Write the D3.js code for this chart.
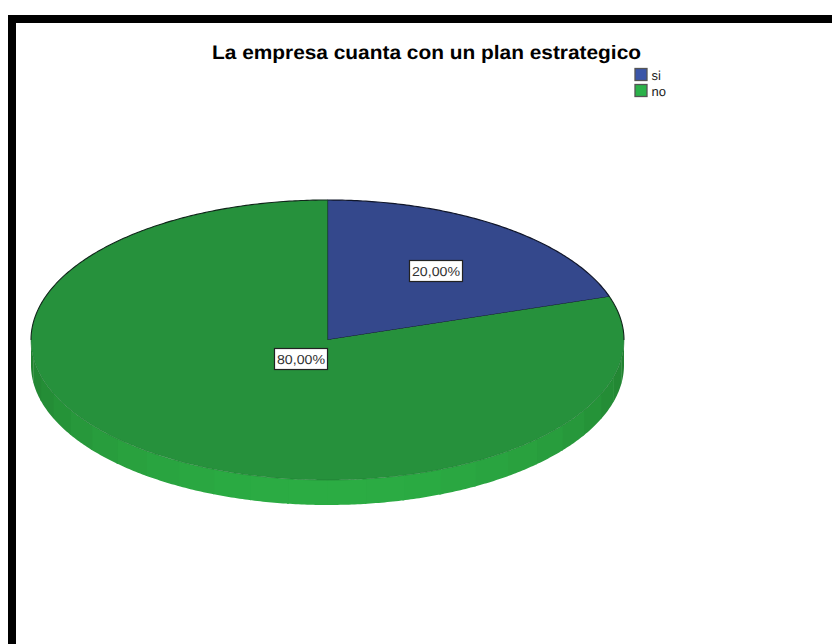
<!DOCTYPE html>
<html><head><meta charset="utf-8">
<script src="https://cdn.jsdelivr.net/npm/d3@7"></script>
<style>html,body{margin:0;padding:0;background:#fff;overflow:hidden}svg{display:block}text{font-family:"Liberation Sans",Arial,sans-serif;text-rendering:geometricPrecision}</style>
</head><body>
<svg id="c" width="832" height="644"></svg>
<script>
const title = "La empresa cuanta con un plan estrategico";
const categories = ["si", "no"];
const values = [20, 80];
const labels = ["20,00%", "80,00%"];
const topColors = ["#34488c", "#26913c"];
const legendColors = ["#3a55a8", "#2bb24a"];

const svg = d3.select("#c");
const cx = 327.5, cy = 340, rx = 296.5, ry = 140, depth = 25;
const px = (a, r = 1) => cx + rx * r * Math.sin(a);
const py = (a, r = 1) => cy - ry * r * Math.cos(a);

// outer frame
svg.append("rect").attr("x", 8).attr("y", 15).attr("width", 900).attr("height", 800).attr("fill", "#000");
svg.append("rect").attr("x", 16).attr("y", 23).attr("width", 900).attr("height", 800).attr("fill", "#fff");

svg.append("text").attr("x", 212).attr("y", 58.5)
  .attr("textLength", 429).attr("lengthAdjust", "spacingAndGlyphs")
  .attr("font-size", 19.5).attr("font-weight", "bold").attr("fill", "#000").text(title);

const pie = d3.pie().sort(null).value(d => d)(values);

function arcPoints(a0, a1, off) {
  const n = Math.max(2, Math.ceil(Math.abs(a1 - a0) / 0.01));
  return d3.range(n + 1).map(i => {
    const a = a0 + (a1 - a0) * i / n;
    return [px(a), py(a) + off];
  });
}
const line = d3.line();

// side wall: bands along the visible lower rim
const bands = 24;
const edge = d3.interpolateRgb("#217f30", "#2bac43");
d3.range(bands).forEach(i => {
  const a0 = Math.PI / 2 + Math.PI * i / bands;
  const a1 = Math.PI / 2 + Math.PI * (i + 1) / bands + 0.006;
  const t = Math.sin(Math.PI * (i + 0.5) / bands);
  const pts = arcPoints(a0, a1, 0).concat(arcPoints(a1, a0, depth));
  svg.append("path").attr("d", line(pts) + "Z").attr("fill", edge(t));
});

// top face
svg.append("g").selectAll("path").data(pie).join("path")
  .attr("d", d => line([[cx, cy], ...arcPoints(d.startAngle, d.endAngle, 0)]) + "Z")
  .attr("fill", (d, i) => topColors[i])
  .attr("stroke", (d, i) => i === 0 ? "#10162a" : "none")
  .attr("stroke-width", 1.2).attr("stroke-linejoin", "round");

// outlines of the "no" slice: upper rim dark, lower rim faint
const no = pie[1];
svg.append("path").attr("d", line(arcPoints(Math.PI * 1.5, no.endAngle, 0)))
  .attr("fill", "none").attr("stroke", "#10261a").attr("stroke-width", 1.1);
svg.append("path").attr("d", line(arcPoints(no.startAngle, Math.PI / 2, 0)))
  .attr("fill", "none").attr("stroke", "#10261a").attr("stroke-width", 1.1);
svg.append("path").attr("d", line(arcPoints(Math.PI / 2, Math.PI * 1.5, 0)))
  .attr("fill", "none").attr("stroke", "#1f7530").attr("stroke-width", 0.5);

// value labels
const labelPos = [[436, 271], [301, 359]];
labels.forEach((t, i) => {
  const [x, y] = labelPos[i];
  svg.append("rect").attr("x", x - 26.5).attr("y", y - 10.5).attr("width", 53).attr("height", 21)
    .attr("fill", "#fff").attr("stroke", "#222").attr("stroke-width", 1.2);
  svg.append("text").attr("x", x - 24).attr("y", y + 4.5)
    .attr("textLength", 48).attr("lengthAdjust", "spacingAndGlyphs")
    .attr("font-size", 13).attr("fill", "#333").text(t);
});

// legend
categories.forEach((c, i) => {
  const y = 68 + i * 16;
  svg.append("rect").attr("x", 635).attr("y", y + 0.5).attr("width", 12).attr("height", 12)
    .attr("fill", legendColors[i]).attr("stroke", "#555").attr("stroke-width", 1.3);
  svg.append("text").attr("x", 651.5).attr("y", y + 11.5).attr("font-size", 13).attr("fill", "#222").text(c);
});
</script>
</body></html>
